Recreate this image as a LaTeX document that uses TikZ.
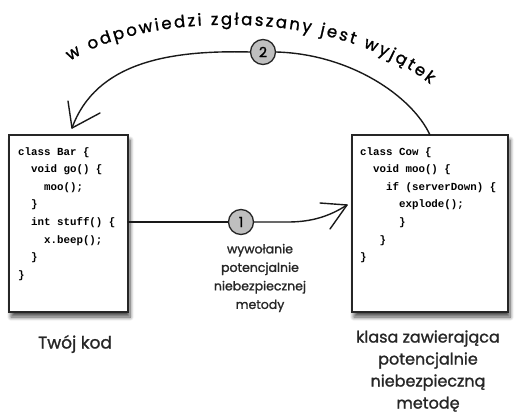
\documentclass[tikz,border=0pt]{standalone}
\usepackage{fontspec}
\setmainfont{Poppins}[FakeBold=1.3]
\newfontfamily\codefont{Liberation Mono}
\usetikzlibrary{shadows.blur,decorations.text}

\tikzset{
  codebox/.style={draw=black!85, line width=1.3pt, fill=white,
    blur shadow={shadow xshift=2pt, shadow yshift=-5pt,
      shadow blur radius=4pt, shadow blur steps=8, shadow opacity=70}},
  code/.style={anchor=north west, inner sep=0pt, align=left,
    font=\codefont\bfseries\fontsize{10.8}{17.6}\selectfont},
  badge/.style={circle, draw=black!85, line width=1.3pt, fill=black!25,
    minimum size=25pt, inner sep=0pt,
    font=\fontsize{14}{14}\selectfont},
  flow/.style={line width=1.4pt, black!90, line cap=round, line join=round},
  note/.style={align=center, inner sep=0pt, text=black!85},
}

\begin{document}
\begin{tikzpicture}[x=1pt, y=-1pt]
  \useasboundingbox (0,0) rectangle (522,415);

  % the two classes
  \draw[codebox] (9,135) rectangle (128,312);
  \node[code] (bar) at (18,147) {class Bar \{\\
\phantom{xx}void go() \{\\
\phantom{xxxx}moo();\\
\phantom{xx}\}\\
\phantom{xx}int stuff() \{\\
\phantom{xxxx}x.beep();\\
\phantom{xx}\}\\
\}};

  \draw[codebox] (352,135) rectangle (508,312);
  \node[code] (cow) at (360,147) {class Cow \{\\
\phantom{xx}void moo() \{\\
\phantom{xxxx}if (serverDown) \{\\
\phantom{xxxxxx}explode();\\
\phantom{xxxxxx}\}\\
\phantom{xxx}\}\\
\}};

  % step 1: the call
  \coordinate (callstart) at (128,222);
  \node[badge] (one) at (241,222) {1};
  \coordinate (calltip) at (347,205);
  \draw[flow] (callstart) -- (one.west);
  \draw[flow] (one.east) -- (288,222) .. controls (312,222) and (330,216) .. (calltip);
  \draw[flow] (320,203) -- (calltip) -- (330,229);

  % step 2: the exception comes back
  \coordinate (throwstart) at (430,135);
  \node[badge] (two) at (263,52) {2};
  \coordinate (throwtip) at (72,128);
  \draw[flow] (throwstart) .. controls (412,96) and (350,54) .. (two.east);
  \draw[flow] (two.west) .. controls (170,50) and (96,62) .. (throwtip);
  \draw[flow] (68,101) -- (throwtip) -- (100,113);

  % labels
  \path[decorate, decoration={text along path, text align=fit to path,
      text={|\fontsize{16.5}{16.5}\selectfont|w odpowiedzi zgłaszany jest wyjątek}}]
    (70,61) .. controls (140,14) and (330,4) .. (430,84);

  \node[note, font=\fontsize{12.5}{18.5}\selectfont] (calllabel) at (260,278)
    {wywołanie\\potencjalnie\\niebezpiecznej\\metody};
  \node[note, font=\fontsize{17}{17}\selectfont] (yours) at (75,344) {Twój kod};
  \node[note, font=\fontsize{16}{22}\selectfont] (cowlabel) at (428,371)
    {klasa zawierająca\\potencjalnie\\niebezpieczną\\metodę};
\end{tikzpicture}
\end{document}
